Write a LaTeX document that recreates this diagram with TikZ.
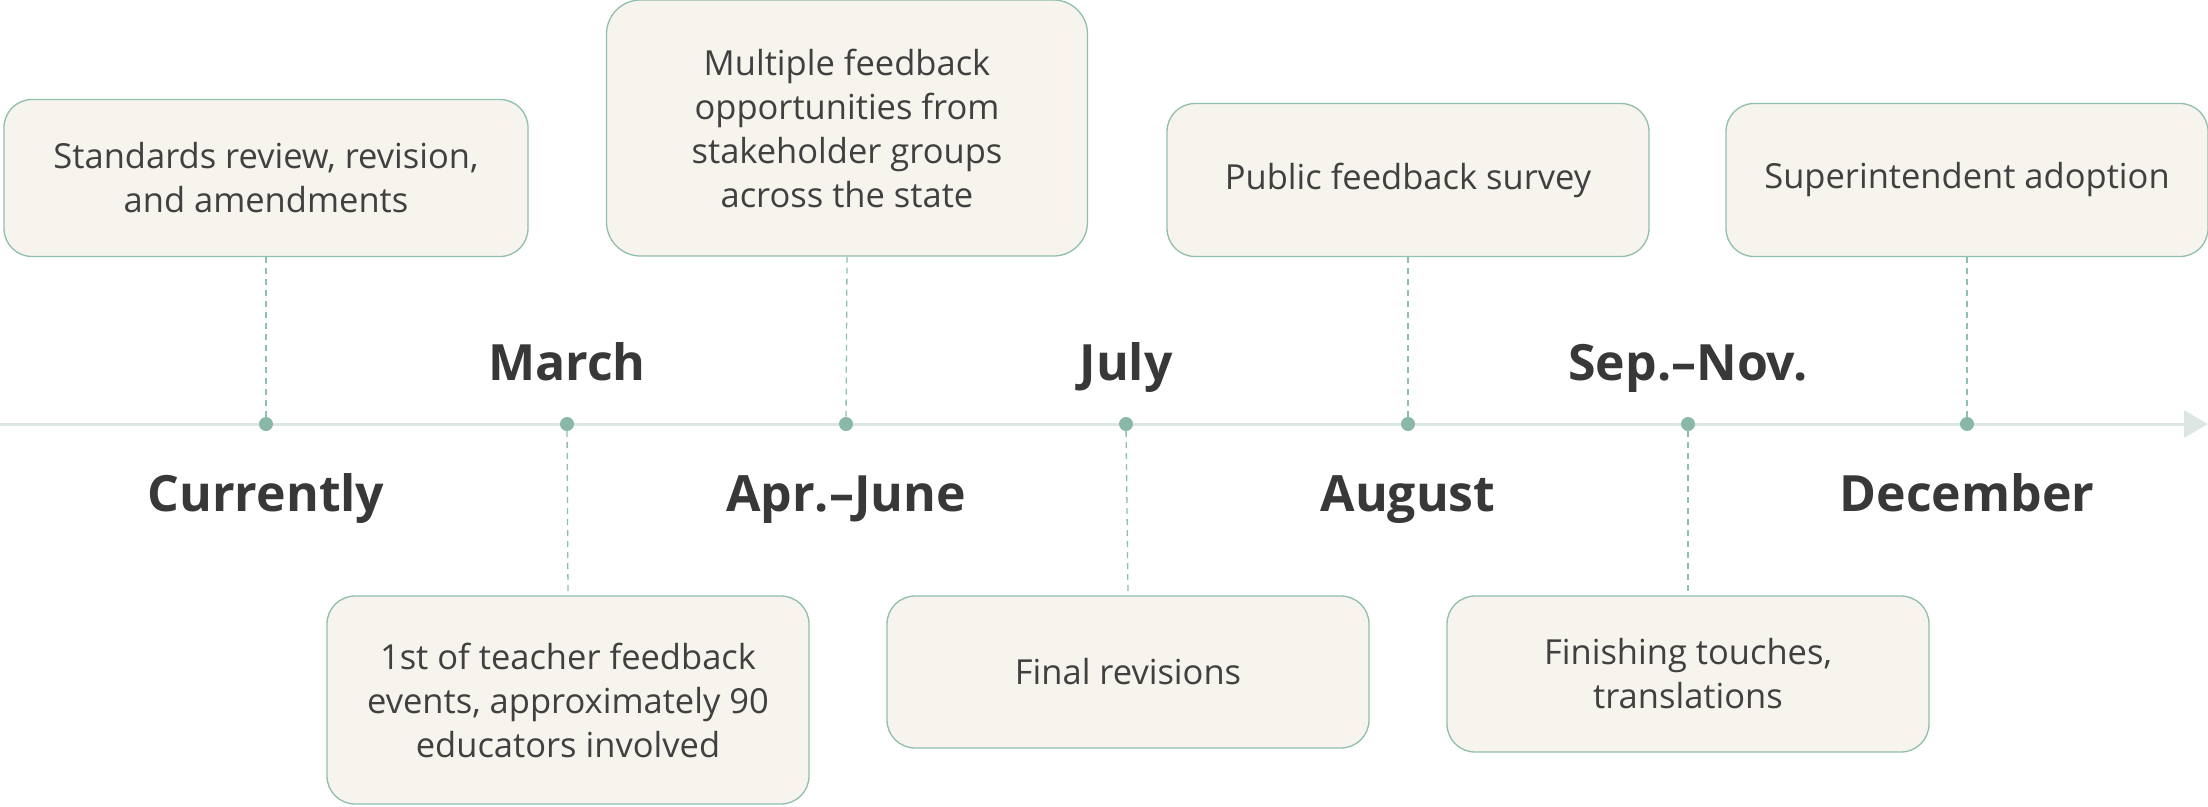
\documentclass[tikz,border=0pt]{standalone}
\usepackage{fontspec}
\setmainfont{Open Sans}
\usetikzlibrary{arrows.meta}
\definecolor{boxfill}{HTML}{F6F4EC}
\definecolor{boxline}{HTML}{8FBFB0}
\definecolor{dotc}{HTML}{8AB8A8}
\definecolor{axisc}{HTML}{DDE6E3}
\definecolor{txt}{HTML}{404040}
\definecolor{lbl}{HTML}{383838}
\tikzset{
  evbox/.style={draw=boxline, line width=1.3pt, fill=boxfill, rounded corners=28pt,
    minimum width=482pt, align=center, text=txt, inner sep=0pt,
    font=\fontsize{34.5}{44}\selectfont},
  tick/.style={circle, fill=dotc, inner sep=0pt, minimum size=14pt},
  when/.style={font=\fontsize{50}{56}\selectfont\bfseries, text=lbl, inner sep=0pt, anchor=base},
  link/.style={draw=boxline, line width=1.3pt, dash pattern=on 6pt off 5pt},
}
\begin{document}
\begin{tikzpicture}[x=1pt,y=-1pt]
\useasboundingbox (0,0) rectangle (2208,806);
% axis
\coordinate (ax0) at (0,424);
\coordinate (ax1) at (2208,424);
\draw[axisc, line width=3pt, -{Triangle[length=24pt,width=27pt]}] (ax0) -- (ax1);
% dots
\node[tick] (d1) at (266,424) {};
\node[tick] (d2) at (567,424) {};
\node[tick] (d3) at (846,424) {};
\node[tick] (d4) at (1126,424) {};
\node[tick] (d5) at (1408,424) {};
\node[tick] (d6) at (1688,424) {};
\node[tick] (d7) at (1967,424) {};
% labels
\node[when] (l1) at (266,511) {Currently};
\node[when] (l2) at (567,380) {March};
\node[when] (l3) at (846,511) {Apr.–June};
\node[when] (l4) at (1126,380) {July};
\node[when] (l5) at (1408,511) {August};
\node[when] (l6) at (1688,380) {Sep.–Nov.};
\node[when] (l7) at (1967,511) {December};
% boxes
\node[evbox, minimum width=524pt, minimum height=157pt] (b1) at (266,178) {Standards review, revision,\\and amendments};
\node[evbox, rounded corners=34pt, minimum width=481pt, minimum height=256pt] (b2) at (847,128) {Multiple feedback\\opportunities from\\stakeholder groups\\across the state};
\node[evbox, minimum height=153pt] (b3) at (1408,180) {Public feedback survey};
\node[evbox, minimum height=153pt] (b4) at (1967,180) {Superintendent adoption};
\node[evbox, minimum height=208pt] (b5) at (568,700) {1st of teacher feedback\\events, approximately 90\\educators involved};
\node[evbox, minimum height=152pt] (b6) at (1128,672) {Final revisions};
\node[evbox, minimum height=156pt] (b7) at (1688,674) {Finishing touches,\\translations};
% connectors
\draw[link] (b1.south) -- (d1);
\draw[link] (d2) -- (b5.north);
\draw[link] (b2.south) -- (d3);
\draw[link] (d4) -- (b6.north);
\draw[link] (b3.south) -- (d5);
\draw[link] (d6) -- (b7.north);
\draw[link] (b4.south) -- (d7);
\end{tikzpicture}
\end{document}
